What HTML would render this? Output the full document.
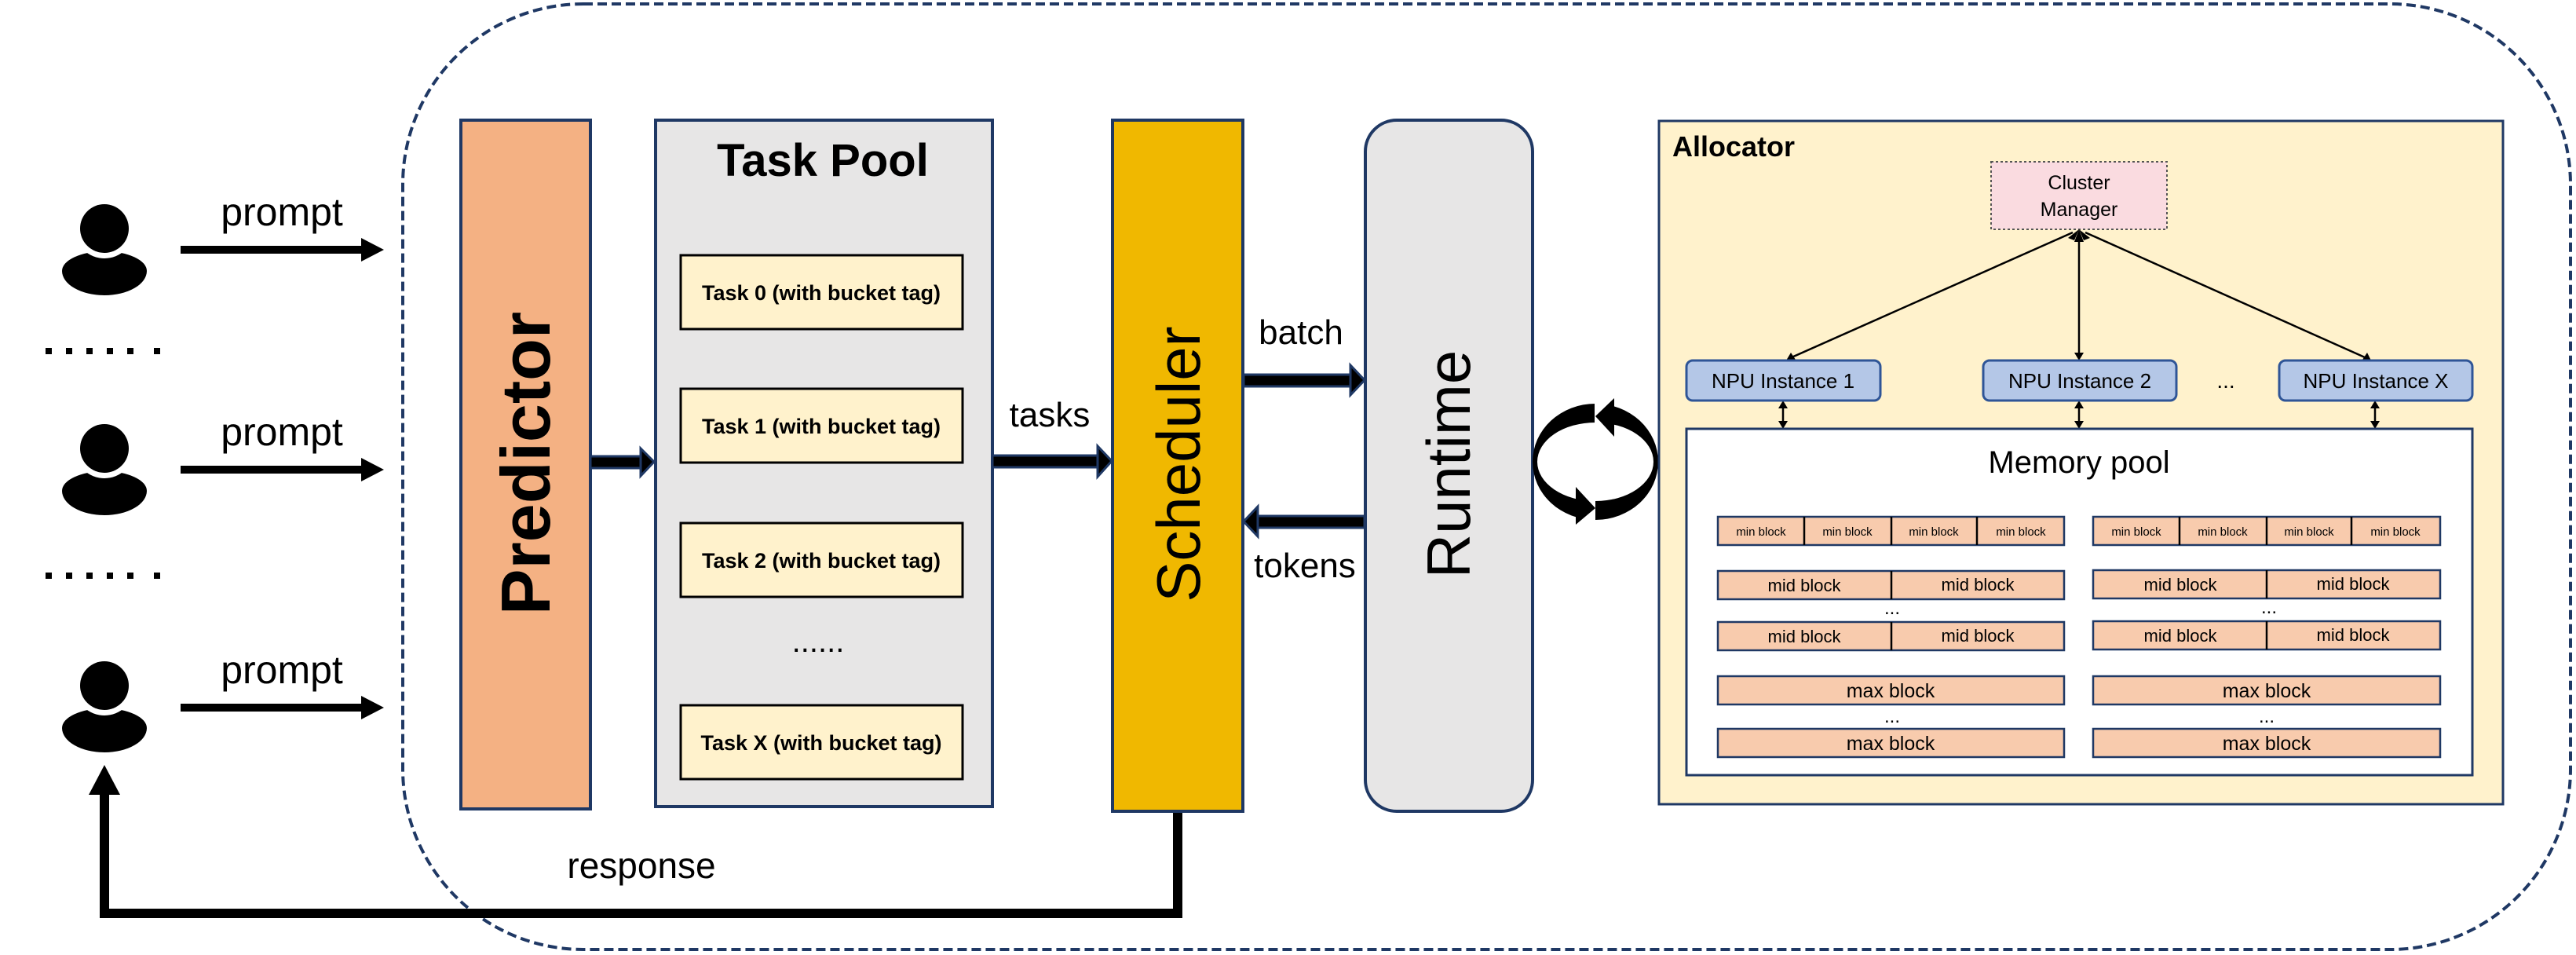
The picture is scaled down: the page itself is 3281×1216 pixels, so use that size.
<!DOCTYPE html>
<html><head><meta charset="utf-8"><style>
html,body{margin:0;padding:0;background:#fff;}
svg{display:block;}
text{font-family:"Liberation Sans",sans-serif;}
</style></head><body>
<svg width="3281" height="1216" viewBox="0 0 3281 1216" xmlns="http://www.w3.org/2000/svg">
<defs>
<g id="user">
<path d="M79,345 A54,31 0 0,0 187,345 A54,25 0 0,0 79,345 Z" fill="#000"/>
<circle cx="133" cy="291" r="38" fill="#fff"/>
<circle cx="133" cy="291" r="31" fill="#000"/>
</g>
<g id="parr">
<rect x="230" y="313" width="232" height="10" fill="#000"/>
<polygon points="460,303 489,318 460,333" fill="#000"/>
</g>
</defs>
<rect width="3281" height="1216" fill="#fff"/>
<!-- outer dashed -->
<rect x="513" y="5" width="2761" height="1204" rx="230" ry="230" fill="none" stroke="#1F3864" stroke-width="4" stroke-dasharray="12,6"/>

<!-- users -->
<use href="#user"/>
<use href="#user" y="280"/>
<use href="#user" y="582"/>
<use href="#parr"/>
<use href="#parr" y="280"/>
<use href="#parr" y="583"/>
<text x="359" y="287" font-size="50" text-anchor="middle">prompt</text>
<text x="359" y="567" font-size="50" text-anchor="middle">prompt</text>
<text x="359" y="870" font-size="50" text-anchor="middle">prompt</text>
<g fill="#000">
<rect x="58" y="443" width="8" height="8"/><rect x="84" y="443" width="8" height="8"/><rect x="110" y="443" width="8" height="8"/><rect x="136" y="443" width="8" height="8"/><rect x="162" y="443" width="8" height="8"/><rect x="196" y="443" width="8" height="8"/>
<rect x="58" y="729" width="8" height="8"/><rect x="84" y="729" width="8" height="8"/><rect x="110" y="729" width="8" height="8"/><rect x="136" y="729" width="8" height="8"/><rect x="162" y="729" width="8" height="8"/><rect x="196" y="729" width="8" height="8"/>
</g>

<!-- response line -->
<polyline points="1500,1034 1500,1163 133,1163 133,1005" fill="none" stroke="#000" stroke-width="12"/>
<polygon points="113,1012 133,974 153,1012" fill="#000"/>
<text x="817" y="1118" font-size="46" text-anchor="middle">response</text>

<!-- Predictor -->
<rect x="587" y="153" width="165" height="877" fill="#F4B183" stroke="#1F3864" stroke-width="4"/>
<text transform="translate(700,590) rotate(-90)" font-size="88" font-weight="bold" text-anchor="middle">Predictor</text>

<!-- Task Pool -->
<rect x="835" y="153" width="429" height="874" fill="#E7E6E6" stroke="#1F3864" stroke-width="4"/>
<text x="1048" y="224" font-size="58" font-weight="bold" text-anchor="middle">Task Pool</text>
<g fill="#FFF2CC" stroke="#000" stroke-width="3">
<rect x="867" y="325" width="359" height="94"/>
<rect x="867" y="495" width="359" height="94"/>
<rect x="867" y="666" width="359" height="94"/>
<rect x="867" y="898" width="359" height="94"/>
</g>
<g font-size="27" font-weight="bold" text-anchor="middle">
<text x="1046" y="382">Task 0 (with bucket tag)</text>
<text x="1046" y="552">Task 1 (with bucket tag)</text>
<text x="1046" y="723">Task 2 (with bucket tag)</text>
<text x="1046" y="955">Task X (with bucket tag)</text>
</g>
<text x="1042" y="830" font-size="40" text-anchor="middle">......</text>

<!-- thick navy arrows -->
<g stroke="#1F3864" stroke-width="3" fill="#000">
<rect x="752" y="581" width="66" height="15"/>
<polygon points="816,571 833,588 816,606"/>
<rect x="1264" y="580" width="136" height="15"/>
<polygon points="1398,568 1416,587 1398,607"/>
<rect x="1584" y="477" width="138" height="15"/>
<polygon points="1720,465 1738,484 1720,503"/>
<rect x="1600" y="657" width="138" height="15"/>
<polygon points="1602,645 1584,664 1602,683"/>
</g>
<g font-size="44" text-anchor="middle">
<text x="1337" y="543">tasks</text>
<text x="1657" y="438">batch</text>
<text x="1662" y="735">tokens</text>
</g>

<!-- Scheduler -->
<rect x="1417" y="153" width="166" height="880" fill="#F0B800" stroke="#1F3864" stroke-width="4"/>
<text transform="translate(1528,591) rotate(-90)" font-size="78" text-anchor="middle">Scheduler</text>

<!-- Runtime -->
<rect x="1739" y="153" width="213" height="880" rx="40" ry="40" fill="#E7E6E6" stroke="#1F3864" stroke-width="4"/>
<text transform="translate(1872,591) rotate(-90)" font-size="78" text-anchor="middle">Runtime</text>

<!-- cycle -->
<path d="M1952,588 a80,74 0 1,0 160,0 a80,74 0 1,0 -160,0 Z M1958,588 a74,50 0 1,0 148,0 a74,50 0 1,0 -148,0 Z" fill="#000" fill-rule="evenodd"/>
<rect x="2031" y="500" width="25" height="50" fill="#fff"/>
<rect x="2007" y="625" width="25" height="45" fill="#fff"/>
<polygon points="2032,530 2056,507 2056,556" fill="#000"/>
<polygon points="2032,647 2007,620 2007,668" fill="#000"/>

<!-- Allocator -->
<rect x="2113" y="154" width="1075" height="870" fill="#FFF2CC" stroke="#1F3864" stroke-width="3"/>
<text x="2130" y="199" font-size="36" font-weight="bold">Allocator</text>
<rect x="2536" y="206" width="224" height="86" fill="#FADBE0" stroke="#555" stroke-width="2" stroke-dasharray="3,3"/>
<text x="2648" y="241" font-size="25" text-anchor="middle">Cluster</text>
<text x="2648" y="275" font-size="25" text-anchor="middle">Manager</text>

<g stroke="#000" stroke-width="2.5">
<line x1="2640" y1="296" x2="2282" y2="455"/>
<line x1="2648" y1="298" x2="2648" y2="452"/>
<line x1="2656" y1="296" x2="3012" y2="455"/>
<line x1="2271" y1="516" x2="2271" y2="540"/>
<line x1="2648" y1="516" x2="2648" y2="540"/>
<line x1="3025" y1="516" x2="3025" y2="540"/>
</g>
<g fill="#000">
<polygon points="2648,292 2634,303 2642,306"/>
<polygon points="2648,292 2642,308 2654,308"/>
<polygon points="2648,292 2654,306 2662,303"/>
<polygon points="2275,459 2281,449 2287,458"/>
<polygon points="2648,459 2642,449 2654,449"/>
<polygon points="3020,459 3009,458 3015,449"/>
<polygon points="2271,510 2265,520 2277,520"/><polygon points="2271,546 2265,536 2277,536"/>
<polygon points="2648,510 2642,520 2654,520"/><polygon points="2648,546 2642,536 2654,536"/>
<polygon points="3025,510 3019,520 3031,520"/><polygon points="3025,546 3019,536 3031,536"/>
</g>

<g fill="#B4C7E7" stroke="#2F5597" stroke-width="3">
<rect x="2148" y="459" width="247" height="51" rx="8"/>
<rect x="2526" y="459" width="246" height="51" rx="8"/>
<rect x="2903" y="459" width="246" height="51" rx="8"/>
</g>
<g font-size="26" text-anchor="middle">
<text x="2271" y="494">NPU Instance 1</text>
<text x="2649" y="494">NPU Instance 2</text>
<text x="3026" y="494">NPU Instance X</text>
</g>
<text x="2835" y="494" font-size="28" text-anchor="middle">...</text>

<!-- memory pool -->
<rect x="2148" y="546" width="1001" height="441" fill="#fff" stroke="#1F3864" stroke-width="3"/>
<text x="2648" y="602" font-size="40" text-anchor="middle">Memory pool</text>

<g fill="#F8CBAD" stroke="#1F3864" stroke-width="2.5">
<rect x="2188" y="658" width="441" height="36"/>
<rect x="2666" y="658" width="442" height="36"/>
<rect x="2188" y="727" width="441" height="36"/>
<rect x="2666" y="726" width="442" height="36"/>
<rect x="2188" y="792" width="441" height="36"/>
<rect x="2666" y="791" width="442" height="36"/>
<rect x="2188" y="861" width="441" height="36"/>
<rect x="2666" y="861" width="442" height="36"/>
<rect x="2188" y="928" width="441" height="36"/>
<rect x="2666" y="928" width="442" height="36"/>
</g>
<g stroke="#000" stroke-width="2.5">
<line x1="2298" y1="658" x2="2298" y2="694"/><line x1="2409" y1="658" x2="2409" y2="694"/><line x1="2518" y1="658" x2="2518" y2="694"/>
<line x1="2776" y1="658" x2="2776" y2="694"/><line x1="2887" y1="658" x2="2887" y2="694"/><line x1="2995" y1="658" x2="2995" y2="694"/>
<line x1="2409" y1="727" x2="2409" y2="763"/><line x1="2887" y1="726" x2="2887" y2="762"/>
<line x1="2409" y1="792" x2="2409" y2="828"/><line x1="2887" y1="791" x2="2887" y2="827"/>
</g>
<g font-size="15" text-anchor="middle">
<text x="2243" y="682">min block</text><text x="2353" y="682">min block</text><text x="2463" y="682">min block</text><text x="2574" y="682">min block</text>
<text x="2721" y="682">min block</text><text x="2831" y="682">min block</text><text x="2941" y="682">min block</text><text x="3051" y="682">min block</text>
</g>
<g font-size="22" text-anchor="middle">
<text x="2298" y="753">mid block</text><text x="2519" y="752">mid block</text>
<text x="2777" y="752">mid block</text><text x="2997" y="751">mid block</text>
<text x="2298" y="818">mid block</text><text x="2519" y="817">mid block</text>
<text x="2777" y="817">mid block</text><text x="2997" y="816">mid block</text>
</g>
<g font-size="25" text-anchor="middle">
<text x="2408" y="888">max block</text><text x="2887" y="888">max block</text>
<text x="2408" y="955">max block</text><text x="2887" y="955">max block</text>
</g>
<g font-size="24" text-anchor="middle">
<text x="2410" y="782">...</text><text x="2890" y="781">...</text>
<text x="2410" y="920">...</text><text x="2887" y="920">...</text>
</g>
</svg>
</body></html>
